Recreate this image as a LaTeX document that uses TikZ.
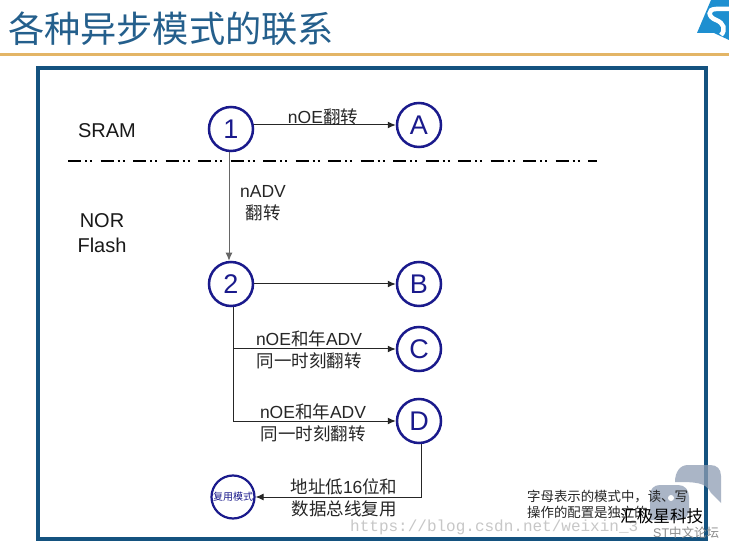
\documentclass[tikz,border=0pt]{standalone}
\usepackage{fontspec}
\setmainfont{Liberation Sans}
\setmonofont{Liberation Mono}
\newfontfamily\cjk{Noto Sans CJK SC}
\usetikzlibrary{arrows.meta}
\definecolor{framecol}{HTML}{14527F}
\definecolor{titlecol}{HTML}{245F8C}
\definecolor{rulecol}{HTML}{E3B566}
\definecolor{circol}{HTML}{1A1A8C}
\definecolor{logocol}{HTML}{1E8FD0}
\definecolor{bubblecol}{HTML}{8E9DB3}
\tikzset{
  x=1pt,y=-1pt,
  state/.style={circle,draw=circol,line width=2.5pt,minimum size=44pt,inner sep=0pt,text=circol,font=\fontsize{27}{27}\selectfont},
  conn/.style={draw=black!85,line width=1pt,-{Latex[length=8pt,width=7pt]}},
  lbl/.style={inner sep=0pt,align=center,text=black!85,font=\fontsize{17.5}{22}\selectfont},
  side/.style={inner sep=0pt,align=left,text=black!90,font=\fontsize{20}{25}\selectfont},
}
\begin{document}
\begin{tikzpicture}
\useasboundingbox (0,0) rectangle (729,548);
\fill[white] (0,0) rectangle (729,548);
% title
\node[inner sep=0pt,anchor=west,text=titlecol] (title) at (8,29) {\cjk\fontsize{36.2}{36.2}\selectfont 各种异步模式的联系};
\draw[rulecol,line width=3pt] (0,54.5) -- (729,54.5);
% logo
\fill[logocol] (697,33) -- (711,0) -- (729,0) -- (729,40) -- (714,33) -- cycle;
\draw[white,line width=4.5pt] (729,9) -- (716,9) .. controls (707,9) and (708,17) .. (716,20) .. controls (724,23) and (726,30) .. (721,35);
% frame
\draw[framecol,line width=4pt] (37.5,68.5) rectangle (706,539) ;
% states
\node[state] (n1) at (231,129) {1};
\node[state] (nA) at (419,125) {A};
\node[state] (n2) at (231,284) {2};
\node[state] (nB) at (419,284) {B};
\node[state] (nC) at (419,349) {C};
\node[state] (nD) at (419,421) {D};
\node[state,minimum size=43pt,line width=2.2pt,text=circol] (nM) at (233,497) {\cjk\fontsize{10}{10}\selectfont 复用模式};
% separator
\coordinate (sepL) at (68,161);
\coordinate (sepR) at (597,161);
\draw[black,line width=2pt,dash pattern=on 13pt off 4pt on 2pt off 3pt on 2pt off 8.5pt] (sepL) -- (sepR);
% connectors
\draw[conn] (n1.east |- nA) -- (nA);
\draw[conn,draw=black!60] ([xshift=-2pt]n1.south) -- ([xshift=-2pt]n2.north);
\draw[conn] (n2) -- (nB);
\draw[conn] ([xshift=2pt]n2.south) |- (nC);
\draw[conn] ([xshift=2pt]n2.south) |- (nD);
\draw[conn] ([xshift=2pt]nD.south) |- (nM);
% labels
\node[side] (sram) at (107,131) {SRAM};
\node[side,align=center] (nor) at (102,233) {NOR\\Flash};
\node[lbl] (l1) at (323,117) {nOE{\cjk 翻转}};
\node[lbl] (l2) at (263,203) {nADV\\{\cjk 翻转}};
\node[lbl] (l3) at (309,350) {nOE{\cjk 和年}ADV\\{\cjk 同一时刻翻转}};
\node[lbl] (l4) at (313,423) {nOE{\cjk 和年}ADV\\{\cjk 同一时刻翻转}};
\node[lbl] (l5) at (344,498) {{\cjk 地址低}16{\cjk 位和}\\{\cjk 数据总线复用}};
% watermark bubbles
\fill[bubblecol,opacity=.75] (688,465) -- (710,465) .. controls (717,465) and (721,469) .. (721,476) -- (721,503) -- (711,493) .. controls (706,482) and (695,482) .. (675,482) .. controls (675,472) and (680,465) .. (688,465) -- cycle;
\fill[bubblecol,opacity=.75] (660,485) -- (678,485) .. controls (685,485) and (689,490) .. (689,497) -- (689,510) .. controls (689,516) and (685,520) .. (678,520) -- (650,520) -- (650,495) .. controls (650,489) and (654,485) .. (660,485) -- cycle;
\fill[white] (671,498) circle (3pt);
% note
\node[inner sep=0pt,align=left,anchor=west,text=black!85,font=\cjk\fontsize{13.4}{16}\selectfont] (note) at (527,504) {字母表示的模式中，读、写\\操作的配置是独立的};
% watermarks
\node[inner sep=0pt,anchor=west,text=black!22] (url) at (350,527) {\ttfamily\fontsize{16}{16}\selectfont https://blog.csdn.net/weixin\_3};
\node[inner sep=0pt,anchor=west,text=black] (wm1) at (620,516) {\cjk\fontsize{16.6}{16.6}\selectfont 汇极星科技};
\node[inner sep=0pt,anchor=west,text=black!45] (wm2) at (653,533) {\fontsize{12.5}{12.5}\selectfont ST{\cjk 中文论坛}};
\end{tikzpicture}
\end{document}
